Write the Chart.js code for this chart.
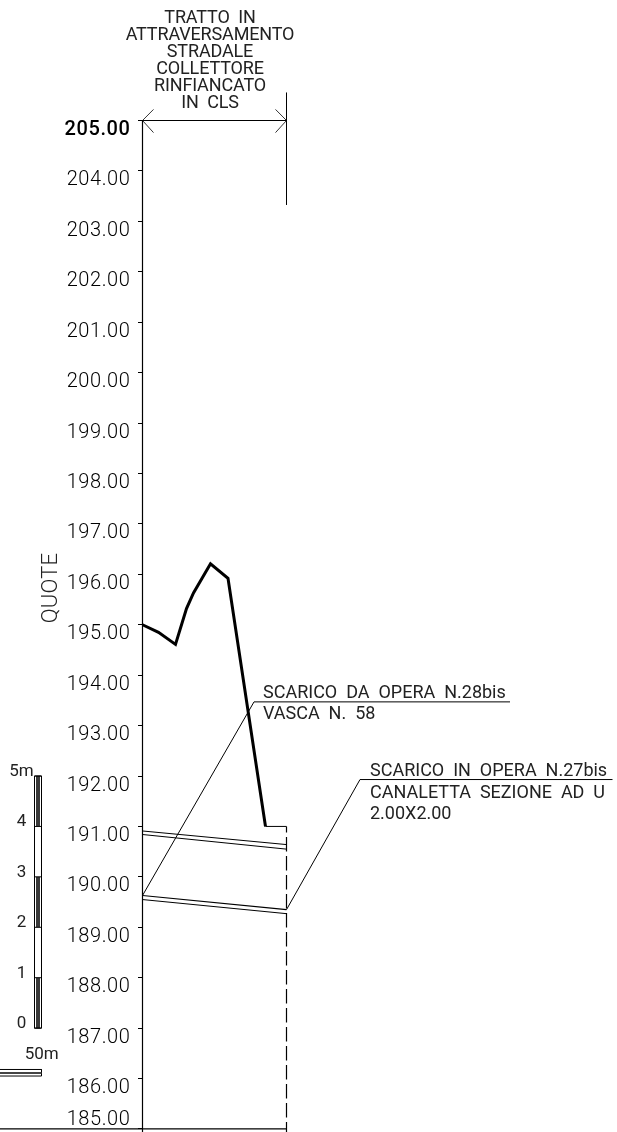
<!DOCTYPE html>
<html lang="it">
<head>
<meta charset="UTF-8">
<title>Profilo longitudinale</title>
<script src="https://cdn.jsdelivr.net/npm/chart.js"></script>
<style>
  html, body { margin: 0; padding: 0; background: #fff; }
  canvas { display: block; }
</style>
</head>
<body>
<canvas id="chart" width="617" height="1132"></canvas>
<script>
// Quote axis
const quoteTicks = [205, 204, 203, 202, 201, 200, 199, 198, 197, 196, 195, 194, 193, 192, 191, 190, 189, 188, 187, 186, 185];

// Ground profile
const profileX = [0, 16, 33, 44, 51, 68, 85.5, 123];
const profileY = [195.0, 194.85, 194.61, 195.32, 195.63, 196.21, 195.92, 191.0];

// Pipe section, two double lines
const pipeX = [0, 144];
const pipeTopA = [190.91, 190.64];
const pipeTopB = [190.84, 190.55];
const pipeBottomA = [189.63, 189.35];
const pipeBottomB = [189.55, 189.27];

// Leaders to the notes
const leader28X = [0, 111.5, 367.5];
const leader28Y = [189.63, 193.47, 193.47];
const leader27X = [144, 217.5, 470];
const leader27Y = [189.35, 191.93, 191.93];

// Text
const titleLines = ['TRATTO  IN', 'ATTRAVERSAMENTO', 'STRADALE', 'COLLETTORE', 'RINFIANCATO', 'IN  CLS'];
const note28 = ['SCARICO  DA  OPERA  N.28bis', 'VASCA  N.  58'];
const note27 = ['SCARICO  IN  OPERA  N.27bis', 'CANALETTA  SEZIONE  AD  U', '2.00X2.00'];
const axisTitle = 'QUOTE';

// Scale bars
const barLabels = ['0', '1', '2', '3', '4', '5m'];
const barValues = [187, 188, 189, 190, 191, 192];
const hBarLabel = '50m';

const FONT = 'Roboto';

function toPoints(xs, ys) {
    return xs.map((x, i) => ({ x: x, y: ys[i] }));
}

function line(points, width, extra) {
    return Object.assign({
        data: points,
        showLine: true,
        pointRadius: 0,
        borderColor: '#000',
        borderWidth: width,
        fill: false,
        tension: 0
    }, extra || {});
}

const datasets = [
    // Axis line and section limits
    line(toPoints([0, 0], [205, 184.94]), 1.2),
    line(toPoints([144, 144], [205.55, 203.33]), 1),
    line(toPoints([144, 144], [191, 184.94]), 1.2, { borderDash: [14.5, 4.5], borderDashOffset: 8.5 }),
    line(toPoints([-142.5, 144], [185, 185]), 1.2),
    // Dimension line with open arrows
    line(toPoints([0, 144], [205, 205]), 1),
    line(toPoints([11, 0, 11], [205.22, 205, 204.76]), 0.8),
    line(toPoints([133, 144, 133], [205.22, 205, 204.76]), 0.8),
    // Profile
    line(toPoints(profileX, profileY), 3, { borderJoinStyle: 'miter' }),
    line(toPoints([123, 144], [191, 191]), 1),
    // Pipe
    line(toPoints(pipeX, pipeTopA), 1),
    line(toPoints(pipeX, pipeTopB), 1),
    line(toPoints(pipeX, pipeBottomA), 1.2),
    line(toPoints(pipeX, pipeBottomB), 1),
    // Leaders
    line(toPoints(leader28X, leader28Y), 1),
    line(toPoints(leader27X, leader27Y), 1)
];

// Vertical 5m bar, outline plus a dark band on the odd metres
const vBarLeft = -108, vBarRight = -101;
datasets.push(line(toPoints([vBarLeft, vBarRight, vBarRight, vBarLeft, vBarLeft], [187, 187, 192, 192, 187]), 1));
barValues.forEach(v => {
    datasets.push(line(toPoints([vBarLeft, vBarRight], [v, v]), 1));
});
[[187, 188], [189, 190], [191, 192]].forEach(seg => {
    datasets.push(line(toPoints([-104.5, -104.5], seg), 4, { borderColor: '#3a3a3a' }));
});

// Horizontal 50m bar, runs off the left edge
const hBarX = [-142.5, -101];
datasets.push(line(toPoints(hBarX, [186.18, 186.18]), 1));
datasets.push(line(toPoints(hBarX, [186.11, 186.11]), 2, { borderColor: '#444' }));
datasets.push(line(toPoints(hBarX, [186.05, 186.05]), 1));
datasets.push(line(toPoints([-101, -101], [186.18, 186.05]), 1));

function text(ctx, str, x, y, font, align, spacing) {
    ctx.font = font;
    ctx.textAlign = align || 'left';
    ctx.textBaseline = 'alphabetic';
    ctx.letterSpacing = (spacing || 0) + 'px';
    ctx.fillText(str, x, y);
}

const drawingText = {
    id: 'drawingText',
    afterDraw(chart) {
        const ctx = chart.ctx;
        const sx = chart.scales.x, sy = chart.scales.y;
        const axisX = sx.getPixelForValue(0);
        ctx.save();
        ctx.fillStyle = '#000';

        // Quote labels sit under their tick, the last one sits above the baseline
        sy.ticks.forEach(t => {
            const py = sy.getPixelForValue(t.value);
            const dy = t.value === 185 ? -4 : 14.5;
            const weight = t.value === 205 ? 500 : 300;
            text(ctx, t.label, axisX - 12, py + dy, weight + ' 20px ' + FONT, 'right', 0.6);
        });

        // Section title
        ctx.fillStyle = '#222';
        const midX = sx.getPixelForValue(67.5);
        titleLines.forEach((s, i) => {
            text(ctx, s, midX, 23 + i * 16.9, '400 18px ' + FONT, 'center', -0.15);
        });

        // Axis title
        ctx.save();
        ctx.translate(57, 588);
        ctx.rotate(-Math.PI / 2);
        text(ctx, axisTitle, 0, 0, '300 22px ' + FONT, 'center', 0.2);
        ctx.restore();

        // Notes, anchored on their leader
        const noteFont = '400 18px ' + FONT;
        const x28 = sx.getPixelForValue(120.5), y28 = sy.getPixelForValue(193.47);
        text(ctx, note28[0], x28, y28 - 4, noteFont, 'left', 0);
        text(ctx, note28[1], x28, y28 + 17, noteFont, 'left', 0);
        const x27 = sx.getPixelForValue(227.5), y27 = sy.getPixelForValue(191.93);
        text(ctx, note27[0], x27, y27 - 4, noteFont, 'left', 0);
        text(ctx, note27[1], x27, y27 + 18, noteFont, 'left', 0);
        text(ctx, note27[2], x27, y27 + 39, noteFont, 'left', 0);

        // Scale bar labels
        const barFont = '400 17px ' + FONT;
        barLabels.forEach((s, i) => {
            text(ctx, s, sx.getPixelForValue(-121), sy.getPixelForValue(barValues[i]), barFont, 'center', 0);
        });
        text(ctx, hBarLabel, sx.getPixelForValue(-100.8), sy.getPixelForValue(186.39), barFont, 'center', 0);
        ctx.restore();
    }
};

new Chart(document.getElementById('chart'), {
    type: 'scatter',
    data: { datasets: datasets },
    plugins: [drawingText],
    options: {
        responsive: false,
        animation: false,
        devicePixelRatio: 1,
        layout: { padding: 0 },
        plugins: { legend: { display: false }, tooltip: { enabled: false } },
        scales: {
            x: {
                type: 'linear',
                display: false,
                min: -142.5,
                max: 474.5
            },
            y: {
                type: 'linear',
                position: { x: 0 },
                min: 184.94,
                max: 207.39,
                afterBuildTicks: scale => {
                    scale.ticks = quoteTicks.map(v => ({ value: v }));
                },
                afterFit: scale => { scale.width = 0; },
                border: { display: false },
                grid: {
                    drawOnChartArea: false,
                    drawTicks: true,
                    tickLength: 5,
                    color: '#000',
                    lineWidth: 1
                },
                ticks: {
                    display: false,
                    callback: v => v.toFixed(2)
                }
            }
        }
    }
});
</script>
</body>
</html>
